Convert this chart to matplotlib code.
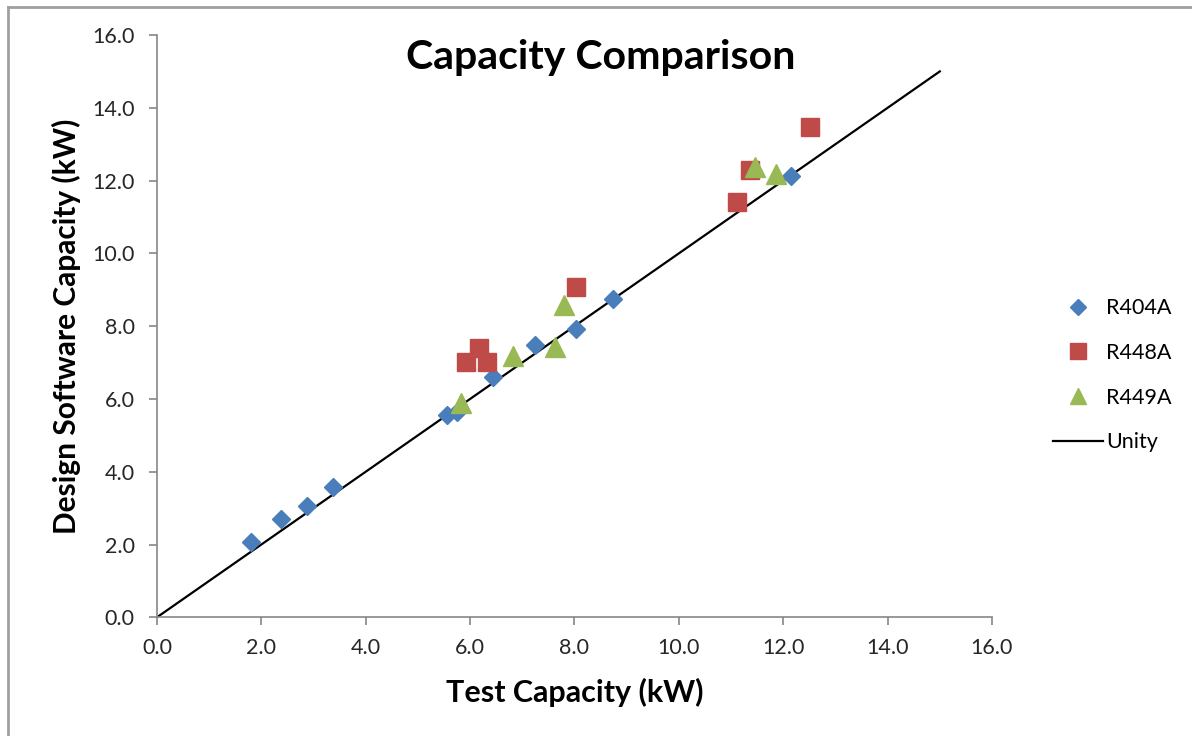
import matplotlib
matplotlib.use("Agg")
import matplotlib.pyplot as plt
from matplotlib.lines import Line2D

plt.rcParams['font.family'] = ['Lato', 'DejaVu Sans']

# values
r404a_test = [1.80, 2.38, 2.87, 3.37, 5.55, 5.74, 6.44, 7.24, 8.02, 8.74, 12.15]
r404a_design = [2.07, 2.70, 3.06, 3.58, 5.55, 5.65, 6.61, 7.48, 7.91, 8.74, 12.12]

r448a_test = [5.93, 6.17, 6.33, 8.02, 11.12, 11.37, 12.52]
r448a_design = [7.02, 7.39, 7.02, 9.08, 11.40, 12.29, 13.48]

r449a_test = [5.83, 6.83, 7.63, 7.79, 11.46, 11.87]
r449a_design = [5.88, 7.19, 7.42, 8.58, 12.38, 12.18]

unity = [0.0, 15.0]

ticks = [0, 2, 4, 6, 8, 10, 12, 14, 16]

fig = plt.figure(figsize=(11.92, 7.36), dpi=100)
ax = fig.add_axes([0.1317, 0.1613, 0.7005, 0.7911])

ax.plot(r404a_test, r404a_design, 'D', color='#4A7EBB', ms=9.5, mec='#4A7EBB', label='R404A', zorder=3)
ax.plot(r448a_test, r448a_design, 's', color='#BE4B48', ms=13, mec='#BE4B48', label='R448A', zorder=3)
ax.plot(r449a_test, r449a_design, '^', color='#98B954', ms=14, mec='#98B954', label='R449A', zorder=4)
ax.plot(unity, unity, '-', color='black', lw=1.6, label='Unity', zorder=2)

ax.set_xlim(0, 16)
ax.set_ylim(0, 16)
ax.set_xticks(ticks)
ax.set_yticks(ticks)
ax.set_xticklabels([f"{t:.1f}" for t in ticks])
ax.set_yticklabels([f"{t:.1f}" for t in ticks])
ax.tick_params(labelsize=15.5, length=6, width=1.2, colors='#262626')
ax.tick_params(color='#868686')
ax.tick_params(axis='x', pad=9)
ax.tick_params(axis='y', pad=10)
for s in ['top', 'right']:
    ax.spines[s].set_visible(False)
for s in ['left', 'bottom']:
    ax.spines[s].set_color('#868686')
    ax.spines[s].set_linewidth(1.2)

ax.set_xlabel('Test Capacity (kW)', fontsize=22, fontweight='bold', labelpad=14)
ax.set_ylabel('Design Software Capacity (kW)', fontsize=21.5, fontweight='bold', labelpad=8)
fig.text(0.504, 0.922, 'Capacity Comparison', fontsize=29.5, fontweight='bold', ha='center', va='center')

handles = [
    Line2D([], [], ls='none', marker='D', color='#4A7EBB', ms=8),
    Line2D([], [], ls='none', marker='s', color='#BE4B48', ms=11),
    Line2D([], [], ls='none', marker='^', color='#98B954', ms=12),
    Line2D([], [], color='black', lw=1.6),
]
fig.legend(handles, ['R404A', 'R448A', 'R449A', 'Unity'], loc='center left',
           bbox_to_anchor=(0.8675, 0.49), frameon=False, fontsize=15.5,
           labelspacing=1.15, handlelength=2.3, handletextpad=0.15)

# grey frame of the pasted chart (only top and left edge visible)
fig.add_artist(Line2D([0.007, 1.0], [0.991, 0.991], color='#A0A0A0', lw=2, transform=fig.transFigure))
fig.add_artist(Line2D([0.007, 0.007], [0.0, 0.991], color='#A0A0A0', lw=2, transform=fig.transFigure))

fig.savefig('out.png', dpi=100)
